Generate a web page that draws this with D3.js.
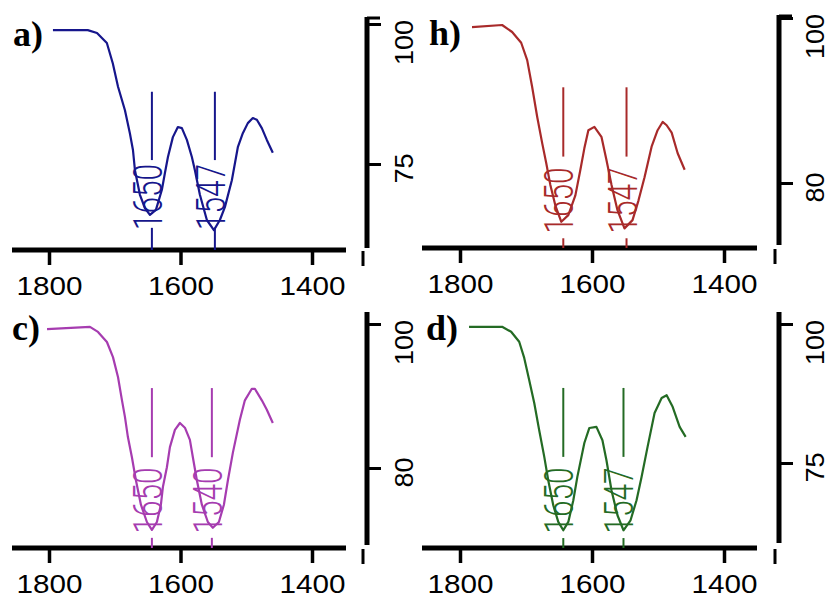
<!DOCTYPE html>
<html><head><meta charset="utf-8">
<script src="https://cdn.jsdelivr.net/npm/d3@7"></script>
<style>html,body{margin:0;padding:0;background:#fff}svg{display:block}</style>
</head><body>
<svg id="chart" width="828" height="599"></svg>
<script>
// ---------- data ----------
const xTicks = [1800, 1600, 1400];
const panelNames = ["a)", "h)", "c)", "d)"];
const panelColors = ["#16168c", "#a82a2a", "#a63cb0", "#246b24"];

const yTicksA = [100, 75];
const yTicksB = [100, 80];
const yTicksC = [100, 80];
const yTicksD = [100, 75];

const wnA = [1794,1741,1727,1712,1703,1695,1684.5,1677,1672.3,1669.3,1661.7,1654,1646.5,1637.4,1628.3,1623.7,1619.1,1611.6,1604,1597.9,1590.3,1582.7,1578.1,1570.5,1559.9,1549.2,1540.1,1532.5,1521.9,1512.8,1505.2,1497.6,1490,1483.9,1476.3,1468.7,1459.6];
const tA  = [98.9,98.9,98.4,96.6,93.0,88.8,84.6,80.5,77.5,73.9,69.5,67.1,65.9,66.8,70.4,73.4,76.25,79.8,81.6,81.4,79.3,76.25,73.9,69.5,65.0,63.2,65.0,67.3,72.1,78.0,80.5,82.3,83.2,82.9,81.4,79.3,77.0];

const wnB = [1781.8,1736.2,1721,1707.3,1698.2,1690.6,1683,1675.4,1669.3,1663.2,1655.6,1646.5,1635.9,1625.2,1617.6,1611.6,1605.5,1596.4,1585.7,1578.1,1570.5,1561.4,1550.8,1538.6,1529.5,1520.4,1509.7,1500.6,1493,1486.9,1479.3,1470.2,1459.6];
const tB  = [98.9,99.15,98.3,97.0,94.9,91.6,88.0,84.8,82.4,79.8,77.3,75.3,76.1,78.5,81.6,84.2,86.4,86.8,85.6,82.8,79.8,76.7,74.5,75.5,77.9,80.7,84.4,86.4,87.4,87.0,86.1,83.6,81.6];

const wnC = [1803,1737.7,1725.5,1711.9,1702.7,1695,1689,1684.5,1680,1673.9,1667.8,1660.2,1651.1,1643.5,1635.9,1629.8,1626.7,1620.7,1616.1,1608.5,1600.9,1593.3,1585.7,1581.2,1575.1,1567.5,1558.4,1550.8,1541.6,1534,1527.9,1520.4,1509.7,1502.1,1491.5,1486.9,1476.3,1468.7,1459.6];
const tC  = [99.3,99.6,98.9,97.5,95.4,92.6,89.4,87.1,84.3,81.5,78.3,74.9,72.5,71.4,72.5,74.9,77.4,80.1,82.9,85.3,86.25,85.6,83.9,81.5,78.3,74.9,72.5,71.7,72.5,74.9,78.3,82.1,86.7,89.4,91.0,91.0,89.4,88.1,86.25];

const wnD = [1786.3,1736.2,1722.5,1710.3,1702.7,1695.1,1687.5,1680,1672.3,1666.3,1658.7,1651.1,1643.5,1635.9,1628.3,1622.2,1611.6,1604,1593.3,1584.2,1578.1,1570.5,1561.4,1552.3,1541.6,1532.5,1524.9,1515.8,1505.2,1494.5,1486.9,1477.8,1467.2,1458.1];
const tD  = [99.5,99.5,98.6,96.8,93.9,89.9,85.8,80.9,76.1,71.9,67.4,64.4,62.9,64.4,68.3,72.5,78.6,81.3,81.5,79.1,75.5,70.1,65.6,62.9,64.7,68.3,72.5,77.9,84.0,86.7,87.2,85.1,81.5,79.7];

// marked bands: position, label, line top, gap top, gap bottom (transmittance units)
const peakWnA = [1643.5, 1547.7], peakLabelA = ["1650", "1547"], peakTopA = [87.9, 87.9], gapTopA = [75.7, 75.7], gapBotA = [63.6, 63.6];
const peakWnB = [1643.5, 1547.7], peakLabelB = ["1650", "1547"], peakTopB = [91.6, 91.6], gapTopB = [83.2, 83.2], gapBotB = [73.3, 73.3];
const peakWnC = [1643.5, 1552.3], peakLabelC = ["1650", "1540"], peakTopC = [91.1, 91.1], gapTopC = [81.5, 81.5], gapBotC = [70.3, 70.3];
const peakWnD = [1643.5, 1552.3], peakLabelD = ["1650", "1547"], peakTopD = [88.5, 88.5], gapTopD = [76.1, 76.1], gapBotD = [61.5, 61.5];

// ---------- layout (pixels) ----------
const layout = [
  {ox:0,   oy:0,   x1800:49,  x1400:312, yTop:24,  yBot:164, axisY:250, ax0:12,  ax1:346, rx:367, rTop:17,  rBot:248, tickLab:295, rLab:413, cap:true,
   name:{x:13, y:46}, xTicks, yTicks:yTicksA, wn:wnA, t:tA, pk:{wn:peakWnA, lab:peakLabelA, top:peakTopA, g0:gapTopA, g1:gapBotA}},
  {ox:411, oy:0,   x1800:460, x1400:724, yTop:18,  yBot:183, axisY:248, ax0:422, ax1:757, rx:779, rTop:15,  rBot:245, tickLab:293, rLab:824, cap:true,
   name:{x:429, y:45}, xTicks, yTicks:yTicksB, wn:wnB, t:tB, pk:{wn:peakWnB, lab:peakLabelB, top:peakTopB, g0:gapTopB, g1:gapBotB}},
  {ox:0,   oy:300, x1800:49,  x1400:312, yTop:324, yBot:468, axisY:548, ax0:12,  ax1:346, rx:367, rTop:312, rBot:545, tickLab:593, rLab:413, cap:false,
   name:{x:12, y:340}, xTicks, yTicks:yTicksC, wn:wnC, t:tC, pk:{wn:peakWnC, lab:peakLabelC, top:peakTopC, g0:gapTopC, g1:gapBotC}},
  {ox:411, oy:300, x1800:460, x1400:724, yTop:324, yBot:463, axisY:548, ax0:422, ax1:757, rx:779, rTop:312, rBot:543, tickLab:593, rLab:824, cap:false,
   name:{x:426, y:340}, xTicks, yTicks:yTicksD, wn:wnD, t:tD, pk:{wn:peakWnD, lab:peakLabelD, top:peakTopD, g0:gapTopD, g1:gapBotD}}
];

const svg = d3.select("#chart");
svg.append("rect").attr("width", 828).attr("height", 599).attr("fill", "#fff");

layout.forEach((L, i) => {
  const color = panelColors[i];
  const g = svg.append("g");
  const x = d3.scaleLinear().domain([1800, 1400]).range([L.x1800, L.x1400]);
  const y = d3.scaleLinear().domain([L.yTicks[0], L.yTicks[1]]).range([L.yTop, L.yBot]);

  // bottom axis
  g.append("line").attr("x1", L.ax0).attr("x2", L.ax1).attr("y1", L.axisY).attr("y2", L.axisY)
    .attr("stroke", "#000").attr("stroke-width", 5);
  const xa = g.append("g").attr("transform", `translate(0,${L.axisY})`)
    .call(d3.axisBottom(x).tickValues(L.xTicks).tickSize(15).tickFormat(d3.format("d")));
  xa.select(".domain").remove();
  xa.selectAll(".tick line").attr("stroke", "#000").attr("stroke-width", 3.5);
  xa.selectAll(".tick text").attr("y", null).attr("dy", null)
    .attr("transform", `translate(0,${L.tickLab - L.axisY})`)
    .attr("font-family", "'Liberation Sans', Arial, sans-serif").attr("font-size", 25)
    .attr("fill", "#000").attr("textLength", 66).attr("lengthAdjust", "spacingAndGlyphs");

  // right axis
  g.append("line").attr("x1", L.rx).attr("x2", L.rx).attr("y1", L.rTop).attr("y2", L.rBot)
    .attr("stroke", "#000").attr("stroke-width", 5);
  if (L.cap) g.append("line").attr("x1", L.rx).attr("x2", L.rx + 13).attr("y1", L.rTop + 1).attr("y2", L.rTop + 1)
    .attr("stroke", "#000").attr("stroke-width", 3);
  g.append("line").attr("x1", L.rx - 4).attr("x2", L.rx - 4).attr("y1", L.axisY + 1).attr("y2", L.axisY + 16)
    .attr("stroke", "#000").attr("stroke-width", 3);
  const ya = g.append("g").attr("transform", `translate(${L.rx},0)`)
    .call(d3.axisRight(y).tickValues(L.yTicks).tickSize(14).tickFormat(d3.format("d")));
  ya.select(".domain").remove();
  ya.selectAll(".tick line").attr("stroke", "#000").attr("stroke-width", 3);
  const labShift = [18, 4];
  ya.selectAll(".tick text").each(function(d, k) {
    const s = String(d);
    d3.select(this).attr("x", null).attr("dy", null).attr("y", null)
      .attr("transform", `translate(${L.rLab - L.rx},${labShift[k]}) rotate(-90)`)
      .attr("text-anchor", "middle")
      .attr("font-family", "'Liberation Sans', Arial, sans-serif").attr("font-size", 25)
      .attr("fill", "#000").attr("textLength", s.length * 15).attr("lengthAdjust", "spacingAndGlyphs");
  });

  // spectrum
  const pts = L.wn.map((w, k) => [w, L.t[k]]);
  g.append("path").datum(pts)
    .attr("d", d3.line().x(d => x(d[0])).y(d => y(d[1])))
    .attr("fill", "none").attr("stroke", color).attr("stroke-width", 2.2).attr("stroke-linejoin", "round");

  // band markers
  L.pk.wn.forEach((w, k) => {
    const px = x(w);
    g.append("line").attr("x1", px).attr("x2", px).attr("y1", y(L.pk.top[k])).attr("y2", y(L.pk.g0[k]))
      .attr("stroke", color).attr("stroke-width", 2);
    g.append("line").attr("x1", px).attr("x2", px).attr("y1", y(L.pk.g1[k])).attr("y2", L.axisY)
      .attr("stroke", color).attr("stroke-width", 2);
    const cy = (y(L.pk.g0[k]) + y(L.pk.g1[k])) / 2 + 3;
    g.append("text")
      .attr("transform", `translate(${px + 10},${cy}) rotate(-90) scale(1,1.75)`)
      .attr("text-anchor", "middle")
      .attr("font-family", "Roboto, 'Liberation Sans', sans-serif").attr("font-weight", 300)
      .attr("font-size", 23).attr("fill", color)
      .attr("textLength", 66).attr("lengthAdjust", "spacingAndGlyphs")
      .text(L.pk.lab[k]);
  });

  // panel letter
  g.append("text").attr("x", L.name.x).attr("y", L.name.y)
    .attr("font-family", "'Liberation Serif', 'Times New Roman', serif").attr("font-weight", "bold")
    .attr("font-size", 36).attr("fill", "#000")
    .text(panelNames[i]);
});
</script>
</body></html>
